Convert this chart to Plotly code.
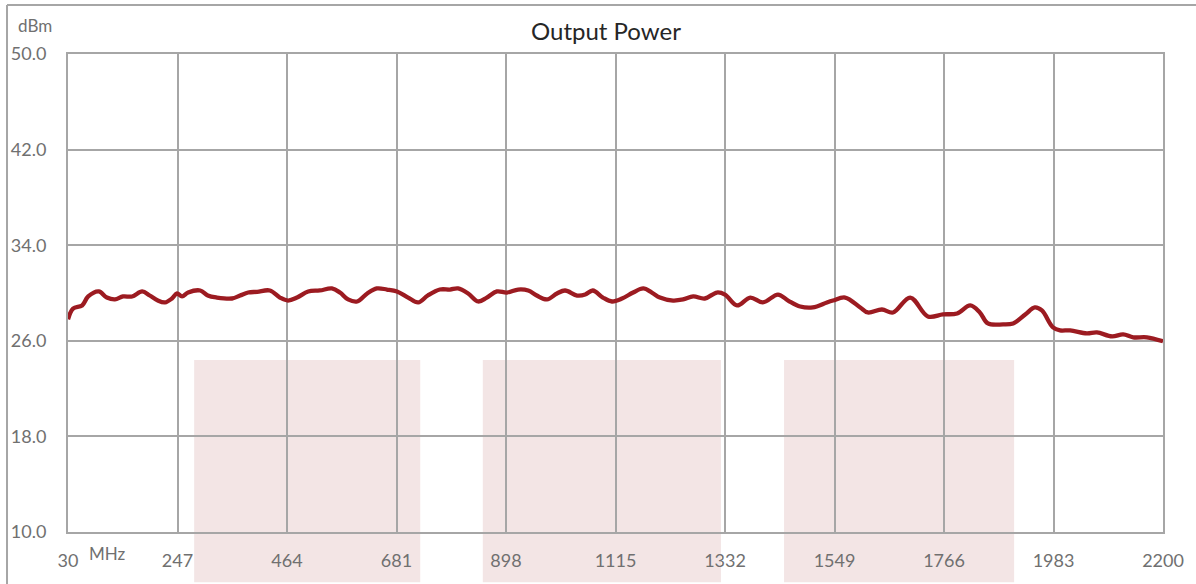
import plotly.graph_objects as go

# Frequency (MHz) and output power (dBm)
freq_mhz = [30, 40, 58, 70, 91, 107, 123, 139, 157, 177, 192, 208, 222, 236, 246, 256, 268,
            292, 307, 325, 355, 371, 387, 405, 430, 450, 466, 484, 506, 529, 553, 569, 585,
            603, 623, 642, 662, 682, 704, 724, 743, 767, 787, 803, 823, 843, 860, 880, 900,
            922, 942, 959, 979, 999, 1015, 1039, 1055, 1070, 1090, 1108, 1128, 1150, 1170,
            1187, 1203, 1229, 1249, 1269, 1292, 1316, 1332, 1356, 1382, 1407, 1437, 1457,
            1481, 1506, 1534, 1546, 1570, 1600, 1615, 1643, 1665, 1699, 1734, 1764, 1792,
            1818, 1837, 1853, 1883, 1903, 1927, 1946, 1960, 1982, 1996, 2016, 2049, 2069,
            2099, 2121, 2141, 2168, 2200]
power_dbm = [27.8, 28.7, 28.96, 29.71, 30.13, 29.62, 29.46, 29.71, 29.71, 30.13, 29.79,
             29.37, 29.21, 29.54, 29.96, 29.71, 30.04, 30.21, 29.79, 29.62, 29.54, 29.79,
             30.04, 30.1, 30.21, 29.62, 29.37, 29.62, 30.13, 30.21, 30.38, 30.04, 29.46,
             29.29, 29.96, 30.38, 30.29, 30.13, 29.62, 29.21, 29.79, 30.29, 30.29, 30.38,
             29.96, 29.29, 29.62, 30.13, 30.04, 30.29, 30.21, 29.79, 29.46, 29.96, 30.21,
             29.79, 29.87, 30.21, 29.62, 29.29, 29.54, 30.04, 30.38, 30.04, 29.62, 29.37,
             29.46, 29.71, 29.54, 30.04, 29.87, 28.96, 29.62, 29.21, 29.87, 29.37, 28.87,
             28.79, 29.21, 29.37, 29.62, 28.79, 28.37, 28.62, 28.37, 29.62, 28.04, 28.21,
             28.29, 28.96, 28.37, 27.45, 27.37, 27.45, 28.2, 28.79, 28.54, 27.12, 26.87,
             26.87, 26.62, 26.7, 26.37, 26.54, 26.29, 26.29, 25.96]

x_ticks = [30, 247, 464, 681, 898, 1115, 1332, 1549, 1766, 1983, 2200]
y_ticks = [10, 18, 26, 34, 42, 50]

# Shaded bands (MHz ranges)
band_starts = [280, 852, 1449]
band_ends = [728, 1324, 1905]

grid_col = "#a6a6a6"
text_col = "#707070"
font_family = "Lato, 'Open Sans', sans-serif"

fig = go.Figure()
fig.add_trace(go.Scatter(
    x=freq_mhz, y=power_dbm, mode="lines",
    line=dict(color="#9c1b21", width=4.3, shape="spline", smoothing=1.0),
    hoverinfo="x+y", showlegend=False,
))

shapes = []
for s, e in zip(band_starts, band_ends):
    shapes.append(dict(type="rect", xref="x", yref="paper", x0=s, x1=e, y0=-0.105, y1=0.36,
                       fillcolor="rgb(243,229,229)", line=dict(width=0), layer="below"))
# outer frame lines (top and left)
shapes.append(dict(type="line", xref="paper", yref="paper", x0=-0.0557, x1=1.2, y0=1.1025, y1=1.1025,
                   line=dict(color=grid_col, width=2)))
shapes.append(dict(type="line", xref="paper", yref="paper", x0=-0.0557, x1=-0.0557, y0=-0.2, y1=1.1025,
                   line=dict(color=grid_col, width=2)))

fig.update_layout(
    width=1196, height=584,
    margin=dict(l=68, r=33, t=54, b=52, autoexpand=False),
    paper_bgcolor="white", plot_bgcolor="white",
    font=dict(family=font_family, color=text_col, size=18),
    shapes=shapes,
    annotations=[
        dict(text="Output Power", xref="paper", yref="paper", x=0.491, y=1.05,
             showarrow=False, font=dict(size=24, color="#262626", family=font_family),
             xanchor="center", yanchor="middle"),
        dict(text="dBm", xref="paper", yref="paper", x=-0.0305, y=1.06,
             showarrow=False, font=dict(size=17, color=text_col), xanchor="center", yanchor="middle"),
        dict(text="MHz", xref="paper", yref="paper", x=0.0365, y=-0.045,
             showarrow=False, font=dict(size=17, color=text_col), xanchor="center", yanchor="middle"),
    ],
)
fig.update_xaxes(
    range=[30, 2200], tickmode="array", tickvals=x_ticks, ticktext=[str(v) for v in x_ticks],
    showgrid=True, gridcolor=grid_col, gridwidth=2,
    showline=True, linecolor=grid_col, linewidth=2, mirror=True, automargin=False,
    ticks="", ticklabelstandoff=11, zeroline=False, fixedrange=True,
)
fig.update_yaxes(
    range=[10, 50], tickmode="array", tickvals=y_ticks, ticktext=[f"{v:.1f}" for v in y_ticks],
    showgrid=True, gridcolor=grid_col, gridwidth=2,
    showline=True, linecolor=grid_col, linewidth=2, mirror=True, automargin=False,
    ticks="", ticklabelstandoff=16, zeroline=False, fixedrange=True,
)

fig.write_html("out.html", config={"displayModeBar": False},
               post_script="document.body.style.margin='0';document.body.style.overflow='hidden';")
